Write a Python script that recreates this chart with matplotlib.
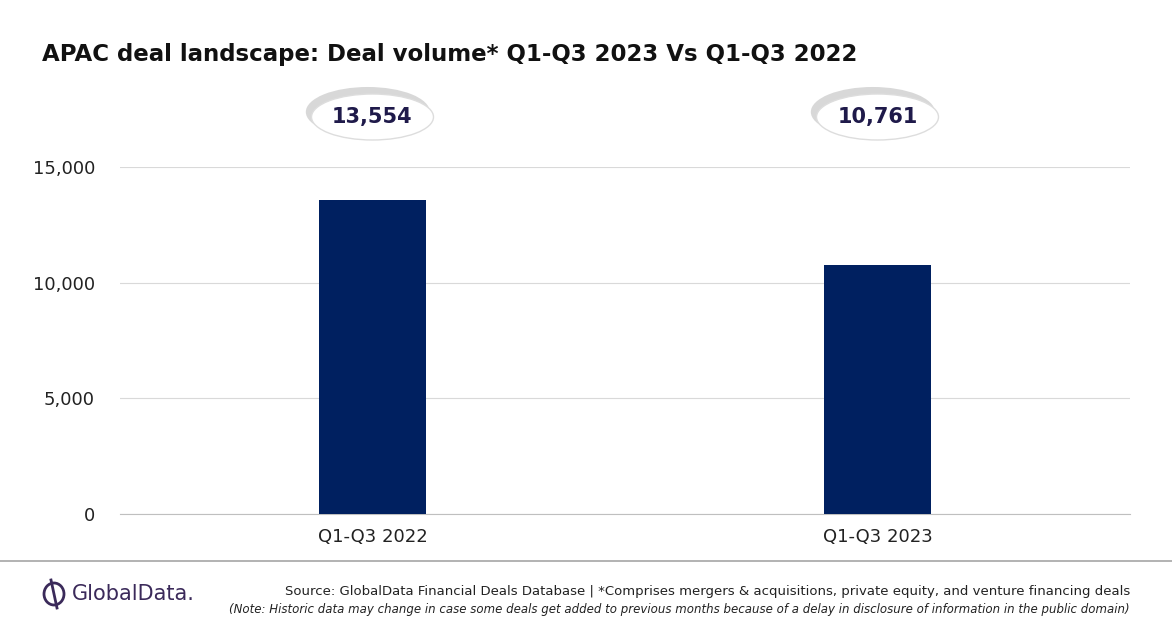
import matplotlib
matplotlib.use("Agg")
import matplotlib.pyplot as plt
from matplotlib.patches import Ellipse
import matplotlib.ticker as mt

categories = ["Q1-Q3 2022", "Q1-Q3 2023"]
values = [13554, 10761]
labels = ["13,554", "10,761"]

fig = plt.figure(figsize=(11.72, 6.28), dpi=100)
ax = fig.add_axes([120/1172, 1-514/628, 1010/1172, (514-167)/628])
x = range(len(categories))
ax.bar(x, values, width=0.21, color="#002060", zorder=3)
ax.set_xlim(-0.5, 1.5)
ax.set_ylim(0, 15000)
ax.set_yticks([0, 5000, 10000, 15000])
ax.yaxis.set_major_formatter(mt.FuncFormatter(lambda v, p: f"{int(v):,}"))
ax.set_xticks(list(x))
ax.set_xticklabels(categories)
ax.grid(axis="y", color="#d9d9d9", lw=0.8, zorder=0)
for s in ["top", "right", "left"]:
    ax.spines[s].set_visible(False)
ax.spines["bottom"].set_color("#bfbfbf")
ax.tick_params(length=0, labelsize=13, colors="#222222", pad=10)
ax.tick_params(axis="y", pad=18)

for i, lab in enumerate(labels):
    cx = (120 + 252.5 + 505*i) / 1172
    cy = 1 - 117/628
    fig.patches.append(Ellipse((cx-0.004, cy+0.008), 124/1172, 50/628, transform=fig.transFigure,
                               facecolor="#c8c8c8", edgecolor="none", alpha=0.7))
    fig.patches.append(Ellipse((cx, cy), 122/1172, 46/628, transform=fig.transFigure,
                               facecolor="white", edgecolor="#dddddd", lw=1.0))
    fig.text(cx, cy, lab, ha="center", va="center", fontsize=15, fontweight="bold", color="#1f1a4a")

fig.text(42/1172, 1-55/628, "APAC deal landscape: Deal volume* Q1-Q3 2023 Vs Q1-Q3 2022",
         fontsize=16.5, fontweight="bold", color="#111111", va="center")
fig.add_artist(plt.Line2D([0, 1], [1-561/628]*2, color="#a6a6a6", lw=1.2, transform=fig.transFigure))
# logo mark
lc = "#3b2a5a"
fig.patches.append(Ellipse((54/1172, 1-594/628), 20/1172, 22/628, transform=fig.transFigure,
                           facecolor="none", edgecolor=lc, lw=2))
fig.add_artist(plt.Line2D([51/1172, 57/1172], [1-580/628, 1-608/628], color=lc, lw=2,
                          transform=fig.transFigure))
fig.text(72/1172, 1-594/628, "GlobalData.", fontsize=15, color=lc, va="center")
fig.text(1130/1172, 1-592/628,
         "Source: GlobalData Financial Deals Database | *Comprises mergers & acquisitions, private equity, and venture financing deals",
         fontsize=9.5, ha="right", va="center", color="#222222")
fig.text(1130/1172, 1-609/628,
         "(Note: Historic data may change in case some deals get added to previous months because of a delay in disclosure of information in the public domain)",
         fontsize=8.5, ha="right", va="center", style="italic", color="#222222")
fig.savefig("out.png", dpi=100)
